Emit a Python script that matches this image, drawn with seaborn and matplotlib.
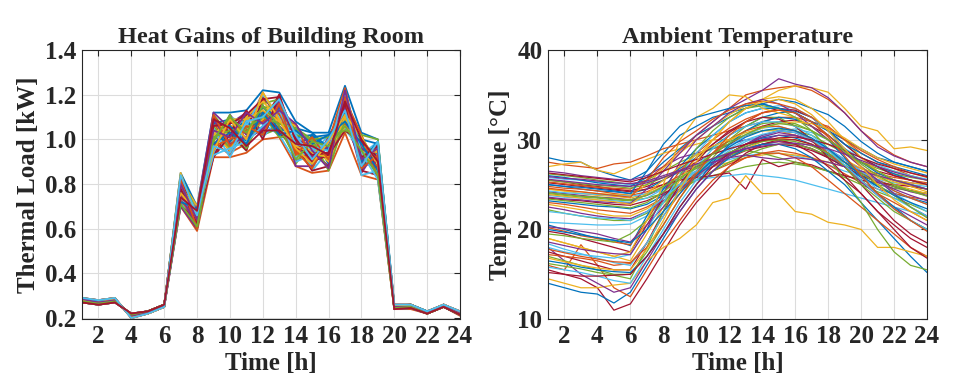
import numpy as np
import pandas as pd
import matplotlib
matplotlib.use("Agg")
import matplotlib.pyplot as plt
import seaborn as sns

hours = list(range(1, 25))
x_ticks = list(range(2, 25, 2))
load_ticks = [0.2, 0.4, 0.6, 0.8, 1.0, 1.2, 1.4]
temp_ticks = [10, 20, 30, 40]

# Thermal load profiles [kW]
load_profiles = [
    [0.29,0.28,0.29,0.20,0.22,0.25,0.85,0.70,1.12,1.12,1.13,1.22,1.21,1.08,1.03,1.03,1.24,1.03,1.00,0.26,0.26,0.23,0.26,0.23],
    [0.27,0.26,0.27,0.22,0.23,0.26,0.70,0.59,0.92,0.92,0.94,1.00,1.01,0.88,0.85,0.86,1.03,0.84,0.82,0.24,0.24,0.22,0.25,0.21],
    [0.28,0.27,0.28,0.21,0.225,0.255,0.78,0.65,1.05,0.98,1.08,1.15,1.10,0.95,0.90,0.98,1.15,0.92,0.88,0.25,0.25,0.225,0.255,0.22],
    [0.285,0.275,0.285,0.205,0.22,0.25,0.82,0.68,0.95,1.10,1.00,1.05,1.18,1.02,0.88,1.00,1.10,0.98,0.85,0.255,0.255,0.225,0.26,0.225],
    [0.275,0.265,0.275,0.215,0.23,0.26,0.74,0.62,1.10,0.95,1.12,1.02,1.05,0.92,0.98,0.90,1.20,0.88,0.95,0.245,0.25,0.22,0.25,0.215],
    [0.29,0.275,0.28,0.21,0.225,0.255,0.80,0.66,0.98,1.05,0.96,1.20,1.08,1.05,0.86,0.95,1.06,1.00,0.90,0.25,0.26,0.23,0.255,0.22],
    [0.27,0.26,0.27,0.22,0.23,0.26,0.72,0.60,1.02,1.08,1.04,1.08,1.20,0.90,0.95,0.88,1.18,0.86,0.98,0.24,0.245,0.22,0.25,0.22],
    [0.28,0.27,0.285,0.205,0.22,0.25,0.84,0.69,0.94,1.00,1.10,1.12,1.02,0.98,1.01,1.02,1.12,0.95,0.84,0.255,0.26,0.225,0.26,0.225],
    [0.285,0.27,0.28,0.21,0.225,0.255,0.76,0.63,1.08,0.94,0.98,1.18,1.12,1.06,0.92,0.92,1.22,0.90,0.92,0.25,0.25,0.225,0.255,0.22],
    [0.275,0.265,0.275,0.215,0.23,0.26,0.81,0.67,1.00,1.06,1.06,1.04,1.15,0.94,0.88,1.01,1.08,1.02,0.86,0.245,0.25,0.22,0.25,0.215],
    [0.29,0.28,0.29,0.20,0.22,0.25,0.73,0.61,0.96,1.11,1.02,1.10,1.04,1.00,0.97,0.87,1.14,0.85,0.96,0.26,0.26,0.23,0.26,0.23],
    [0.27,0.26,0.27,0.22,0.23,0.26,0.79,0.64,1.11,1.02,0.95,1.16,1.18,0.89,1.00,0.96,1.04,0.97,0.83,0.24,0.245,0.22,0.25,0.215],
    [0.28,0.27,0.28,0.21,0.225,0.255,0.83,0.68,1.04,0.97,1.09,1.01,1.09,1.03,0.87,0.99,1.19,0.93,0.99,0.25,0.25,0.225,0.255,0.22],
    [0.285,0.275,0.285,0.205,0.22,0.25,0.71,0.62,0.93,1.04,1.11,1.13,1.03,0.96,0.94,0.94,1.10,0.99,0.87,0.255,0.255,0.225,0.26,0.225],
    [0.275,0.265,0.275,0.215,0.23,0.26,0.77,0.66,1.07,1.09,0.99,1.06,1.19,0.91,1.02,0.89,1.16,0.87,0.94,0.245,0.25,0.22,0.25,0.215],
    [0.29,0.275,0.28,0.21,0.225,0.255,0.75,0.64,0.99,0.93,1.05,1.21,1.07,1.07,0.90,1.00,1.07,0.91,0.91,0.25,0.26,0.23,0.255,0.22],
    [0.27,0.26,0.27,0.22,0.23,0.26,0.82,0.70,1.09,1.01,0.97,1.09,1.13,0.93,0.96,0.93,1.21,0.96,0.85,0.24,0.245,0.22,0.25,0.22],
    [0.28,0.27,0.285,0.205,0.22,0.25,0.70,0.60,0.97,1.07,1.12,1.03,1.06,0.99,0.89,0.97,1.09,0.89,0.97,0.255,0.26,0.225,0.26,0.225],
    [0.285,0.27,0.28,0.21,0.225,0.255,0.84,0.67,1.06,0.96,1.01,1.14,1.16,1.04,0.99,0.91,1.13,1.01,0.89,0.25,0.25,0.225,0.255,0.22],
    [0.275,0.265,0.275,0.215,0.23,0.26,0.78,0.63,0.94,1.10,1.07,1.07,1.02,0.90,0.93,1.02,1.05,0.94,0.93,0.245,0.25,0.22,0.25,0.215],
    [0.29,0.28,0.29,0.20,0.22,0.25,0.74,0.65,1.10,1.03,0.95,1.19,1.11,0.97,0.86,0.88,1.17,0.86,0.84,0.26,0.26,0.23,0.26,0.23],
    [0.27,0.26,0.27,0.22,0.23,0.26,0.80,0.61,1.01,0.99,1.08,1.02,1.14,1.01,1.02,0.95,1.11,1.00,0.98,0.24,0.245,0.22,0.25,0.215],
    [0.28,0.27,0.28,0.21,0.225,0.255,0.72,0.68,0.95,1.08,1.03,1.12,1.05,0.94,0.91,0.99,1.23,0.92,0.88,0.25,0.25,0.225,0.255,0.22],
    [0.285,0.275,0.285,0.205,0.22,0.25,0.85,0.62,1.03,0.95,1.10,1.17,1.09,1.06,0.97,0.90,1.06,0.97,0.94,0.255,0.255,0.225,0.26,0.225],
    [0.275,0.265,0.275,0.215,0.23,0.26,0.76,0.69,1.12,1.05,1.00,1.05,1.17,0.88,0.88,1.01,1.15,0.88,0.90,0.245,0.25,0.22,0.25,0.215],
    [0.29,0.275,0.28,0.21,0.225,0.255,0.81,0.60,0.99,1.11,0.96,1.11,1.01,1.02,1.00,0.86,1.09,0.95,0.96,0.25,0.26,0.23,0.255,0.22],
    [0.27,0.26,0.27,0.22,0.23,0.26,0.71,0.66,1.05,0.92,1.06,1.20,1.10,0.92,0.95,0.98,1.20,0.84,0.86,0.24,0.245,0.22,0.25,0.22],
    [0.28,0.27,0.285,0.205,0.22,0.25,0.83,0.64,0.92,1.02,1.13,1.00,1.20,0.99,0.90,0.93,1.04,0.99,0.92,0.255,0.26,0.225,0.26,0.225],
    [0.285,0.27,0.28,0.21,0.225,0.255,0.77,0.67,1.08,1.06,0.98,1.15,1.04,1.05,1.03,0.96,1.12,0.90,0.99,0.25,0.25,0.225,0.255,0.22],
    [0.275,0.265,0.275,0.215,0.23,0.26,0.73,0.63,0.97,1.00,1.04,1.08,1.12,0.95,0.87,1.00,1.18,1.02,0.83,0.245,0.25,0.22,0.25,0.215],
    [0.29,0.28,0.29,0.20,0.22,0.25,0.79,0.68,1.02,1.09,1.09,1.13,1.08,0.97,0.94,0.92,1.10,0.93,0.95,0.26,0.26,0.23,0.26,0.23],
    [0.27,0.26,0.27,0.22,0.23,0.26,0.75,0.61,1.09,0.98,1.01,1.04,1.15,1.01,0.92,0.97,1.14,0.96,0.91,0.24,0.245,0.22,0.25,0.215],
    [0.28,0.27,0.28,0.21,0.225,0.255,0.80,0.65,1.01,1.04,1.05,1.10,1.07,1.05,1.00,1.01,1.04,1.02,1.00,0.25,0.25,0.225,0.255,0.22],
    [0.285,0.275,0.285,0.205,0.22,0.25,0.74,0.66,0.93,0.96,0.99,1.06,1.13,0.98,0.96,0.95,1.21,0.94,0.82,0.255,0.255,0.225,0.26,0.225],
    [0.275,0.265,0.275,0.215,0.23,0.26,0.78,0.62,1.06,1.07,1.11,1.18,1.19,1.00,0.93,0.94,1.16,0.92,0.97,0.245,0.25,0.22,0.25,0.215],
    [0.29,0.275,0.28,0.21,0.225,0.255,0.72,0.69,0.98,1.03,0.98,1.12,1.02,1.04,0.98,1.02,1.08,0.98,0.86,0.25,0.26,0.23,0.255,0.22],
    [0.27,0.26,0.27,0.22,0.23,0.26,0.82,0.60,1.11,0.97,1.06,1.02,1.16,0.93,1.01,0.91,1.19,0.87,0.93,0.24,0.245,0.22,0.25,0.22],
    [0.28,0.27,0.285,0.205,0.22,0.25,0.76,0.67,0.95,1.09,1.00,1.21,1.09,0.96,0.89,0.99,1.11,1.01,0.89,0.255,0.26,0.225,0.26,0.225],
    [0.285,0.27,0.28,0.21,0.225,0.255,0.80,0.64,1.04,1.01,1.12,1.07,1.13,1.07,0.95,0.87,1.22,0.91,0.96,0.25,0.25,0.225,0.255,0.22],
    [0.275,0.265,0.275,0.215,0.23,0.26,0.71,0.61,1.00,1.10,1.03,1.15,1.06,0.91,0.99,0.97,1.06,0.95,0.84,0.245,0.25,0.22,0.25,0.215],
    [0.29,0.28,0.29,0.20,0.22,0.25,0.84,0.66,0.97,0.94,1.08,1.10,1.18,1.02,0.91,1.00,1.13,0.88,0.99,0.26,0.26,0.23,0.26,0.23],
    [0.27,0.26,0.27,0.22,0.23,0.26,0.74,0.68,1.09,1.05,0.97,1.04,1.04,0.98,0.97,0.93,1.17,1.00,0.90,0.24,0.245,0.22,0.25,0.215],
]

# Ambient temperature profiles [degC]
temp_profiles = [
    [28.0,27.6,27.5,26.6,26.0,25.5,26.5,28.5,30.5,31.5,32.5,33.0,33.5,34.0,33.5,33.0,32.0,31.0,30.0,29.0,28.0,27.5,27.0,26.5],
    [27.5,27.2,27.0,26.8,27.3,27.5,28.2,29.0,29.5,30.0,30.5,31.0,31.5,32.0,32.5,32.5,32.0,31.5,30.0,28.5,27.5,26.8,26.0,25.5],
    [27.0,27.3,27.5,26.6,26.2,27.0,27.8,28.5,29.0,29.5,30.0,30.0,30.5,31.0,31.0,30.5,30.0,29.5,28.5,27.5,27.0,26.5,26.0,25.5],
    [26.5,26.3,26.0,25.8,25.6,25.5,26.0,27.0,28.0,28.5,29.0,29.5,30.0,30.2,30.0,29.5,29.0,28.0,27.0,26.5,26.0,25.5,25.2,25.0],
    [26.2,26.0,25.8,25.5,25.3,25.0,25.5,26.5,27.5,28.3,29.0,29.8,30.5,31.0,31.2,31.0,30.5,29.5,28.5,27.5,26.8,26.2,25.8,25.5],
    [25.8,25.6,25.5,25.3,25.2,25.0,25.3,25.8,26.3,26.8,27.2,27.8,28.2,28.5,28.5,28.2,27.8,27.2,26.5,26.0,25.6,25.2,25.0,24.8],
    [25.5,25.3,25.0,24.8,24.5,24.3,24.8,25.5,26.5,27.5,28.5,29.5,30.5,31.5,32.0,32.2,31.5,30.5,29.0,27.5,26.5,26.0,25.5,25.0],
    [25.0,24.8,24.5,24.3,24.2,24.0,24.5,25.5,26.8,28.0,29.2,30.5,31.5,32.5,33.0,33.2,32.5,31.0,29.5,28.0,27.0,26.2,25.5,25.0],
    [24.8,24.6,24.5,24.3,24.0,23.8,24.2,25.0,26.0,27.0,27.8,28.5,29.0,29.5,29.8,29.5,29.0,28.2,27.5,26.8,26.2,25.8,25.5,25.2],
    [24.5,24.3,24.0,23.8,23.7,23.5,24.0,24.8,25.5,26.3,27.0,27.5,28.0,28.3,28.5,28.3,28.0,27.5,27.0,26.5,26.0,25.5,25.2,25.0],
    [24.2,24.0,23.8,23.6,23.5,23.3,23.8,24.6,25.5,26.5,27.5,28.3,29.0,29.5,29.8,29.6,29.0,28.0,27.0,26.0,25.3,24.8,24.3,24.0],
    [24.0,23.8,23.6,23.5,23.3,23.2,23.5,24.0,24.8,25.5,26.0,26.5,27.0,27.3,27.5,27.3,27.0,26.5,26.0,25.5,25.0,24.6,24.3,24.0],
    [23.8,23.6,23.5,23.3,23.2,23.0,23.5,24.5,25.5,26.5,27.5,28.5,29.5,30.3,31.0,31.2,30.8,30.0,29.0,28.0,27.2,26.5,26.0,25.6],
    [23.5,23.3,23.2,23.0,22.8,22.7,23.2,24.0,25.0,26.0,27.0,28.0,28.8,29.2,29.5,29.3,28.8,28.0,27.0,26.0,25.3,24.8,24.3,24.0],
    [23.2,23.0,22.8,22.6,22.5,22.3,22.8,23.8,25.0,26.2,27.5,28.5,29.5,30.2,30.5,30.2,29.5,28.3,27.0,25.8,24.8,24.0,23.5,23.0],
    [23.0,22.8,22.5,22.2,22.0,21.8,22.5,23.5,24.5,25.5,26.5,27.3,28.0,28.5,28.8,28.5,28.0,27.2,26.2,25.2,24.5,24.0,23.6,23.3],
    [22.8,22.5,22.2,21.8,21.5,21.5,22.3,23.5,24.8,26.0,27.0,28.0,29.0,29.8,30.2,30.0,29.5,28.8,27.8,26.8,26.0,25.3,24.8,24.5],
    [22.5,22.2,21.8,21.5,21.3,21.2,22.0,23.2,24.5,25.8,27.0,28.2,29.2,30.0,30.5,30.5,30.0,29.0,27.8,26.5,25.5,24.8,24.2,23.8],
    [22.2,21.8,21.5,21.2,21.0,21.0,21.8,23.0,24.3,25.5,26.5,27.5,28.3,29.0,29.5,29.5,29.0,28.2,27.2,26.2,25.4,24.8,24.3,24.0],
    [20.8,20.7,20.6,20.5,20.5,20.6,21.5,23.0,24.5,26.0,27.5,28.8,29.8,30.5,31.0,30.8,30.0,29.0,27.8,26.5,25.3,24.3,23.5,22.8],
    [25.2,25.0,24.8,24.6,24.4,24.2,24.5,25.0,25.5,25.8,26.0,26.3,24.5,27.8,27.0,27.5,27.2,26.5,26.0,25.5,25.2,25.0,24.8,24.5],
    [26.0,25.8,25.5,25.2,25.0,24.8,25.8,27.5,29.0,30.5,31.5,32.5,33.5,34.0,34.5,34.2,33.5,32.8,31.5,29.8,28.5,27.5,27.0,26.5],
    [25.3,25.1,24.9,24.7,24.6,24.5,25.5,27.0,28.8,30.5,32.0,33.5,35.0,35.5,35.8,36.0,35.5,34.5,33.0,31.0,29.5,28.3,27.5,27.0],
    [24.5,24.3,24.2,24.0,23.9,23.8,25.0,26.8,28.5,30.0,31.5,32.8,33.8,34.5,35.5,36.0,35.8,35.3,33.5,31.5,31.0,29.0,29.2,28.8],
    [23.6,23.4,23.3,23.1,23.0,22.9,24.5,26.5,28.5,30.5,32.0,33.5,34.5,35.5,36.8,36.2,35.8,34.7,33.0,31.0,29.2,28.2,27.5,27.0],
    [25.5,25.3,25.1,24.9,24.8,24.6,25.0,25.8,26.5,27.2,27.8,28.3,28.8,28.5,28.0,27.5,27.0,26.5,25.8,25.0,24.2,23.5,22.8,22.0],
    [24.3,24.1,24.0,23.9,23.8,23.7,24.0,24.5,25.0,25.5,25.8,26.0,26.2,26.0,25.8,25.5,25.0,24.5,24.0,23.5,23.0,22.5,22.0,21.5],
    [15.5,15.0,14.5,13.5,11.0,11.7,14.5,17.5,20.5,23.0,25.0,27.0,28.5,29.5,30.0,30.0,29.5,28.5,27.0,25.0,23.0,21.0,19.5,18.5],
    [14.0,13.5,13.0,12.8,11.8,13.0,16.0,19.0,22.0,24.5,26.5,28.0,29.0,29.5,29.5,29.0,28.0,26.5,25.0,23.0,21.0,19.0,17.0,15.2],
    [16.0,15.5,18.3,16.0,13.5,12.5,15.5,18.5,21.0,23.5,25.5,27.0,28.0,28.5,28.5,28.0,27.0,25.5,24.0,22.5,21.0,19.5,18.0,17.0],
    [14.5,14.0,13.5,13.5,13.8,14.0,16.5,18.0,19.0,20.5,23.0,23.5,26.0,24.0,24.0,22.0,21.7,20.8,20.5,20.0,18.0,18.0,17.5,17.0],
    [18.0,16.5,15.0,14.0,13.0,13.5,16.5,19.5,22.0,24.5,26.5,28.3,29.5,30.5,31.0,30.8,30.0,28.5,27.0,25.3,23.8,22.5,21.5,20.5],
    [17.0,16.5,16.0,15.5,15.0,15.0,17.5,20.5,23.5,26.0,28.0,30.0,31.5,32.5,32.5,31.5,30.0,28.0,25.5,23.0,20.0,17.5,16.0,15.5],
    [15.8,15.5,15.2,14.8,14.3,14.0,17.0,20.0,23.0,25.5,27.5,29.3,30.5,31.3,31.5,31.0,30.0,28.5,27.0,25.5,24.0,22.5,21.0,20.0],
    [19.8,19.5,19.0,18.5,18.0,17.5,20.5,23.5,26.0,28.0,29.5,30.8,32.0,33.0,33.5,33.3,32.5,31.0,29.5,28.0,27.0,26.0,25.5,25.0],
    [20.5,20.0,19.5,19.0,18.8,18.2,21.5,24.5,27.0,29.0,30.5,32.0,33.0,33.5,33.5,33.0,32.0,30.5,29.0,27.5,26.3,25.5,25.0,24.5],
    [20.2,19.8,19.3,19.0,18.6,18.3,21.0,24.0,26.5,28.5,30.0,31.3,32.3,33.0,33.3,33.0,32.0,30.5,28.8,27.0,25.5,24.3,23.5,22.8],
    [19.0,18.5,18.0,17.5,17.0,16.5,19.5,22.5,25.5,28.0,30.0,32.0,33.5,34.5,34.8,34.5,33.5,32.0,30.0,28.0,26.5,25.5,24.8,24.2],
    [20.3,20.1,19.8,19.5,19.0,18.6,20.5,22.5,24.5,26.0,27.3,28.5,29.5,30.3,30.8,30.5,29.8,28.8,27.5,26.3,25.3,24.5,23.8,23.2],
    [19.5,19.3,19.0,18.8,18.6,19.5,21.0,23.0,25.0,27.0,28.5,30.0,31.0,31.8,32.0,31.8,31.0,30.0,28.8,27.5,26.5,25.5,25.0,24.5],
    [18.0,17.5,17.2,17.0,16.8,17.2,20.0,23.0,26.0,28.5,30.5,32.0,33.0,33.5,33.8,33.5,32.5,31.0,29.0,27.0,25.5,24.0,23.0,22.0],
    [17.5,17.0,16.5,16.0,15.5,15.5,18.5,22.0,25.0,27.5,29.5,31.0,32.0,32.5,32.3,31.5,30.0,28.0,26.0,24.0,22.0,20.5,19.0,18.0],
    [16.5,16.2,15.8,15.5,15.3,15.2,17.0,19.5,22.5,25.0,27.5,29.5,31.0,32.0,32.5,32.3,31.5,30.0,28.0,26.0,24.0,22.5,21.0,20.0],
    [17.2,17.0,16.8,16.5,16.0,16.2,18.5,21.5,24.0,26.5,28.5,30.0,31.0,31.5,31.5,31.0,30.0,28.5,27.0,25.5,24.0,23.0,22.0,21.0],
    [19.0,18.5,18.0,17.5,17.0,17.5,21.0,25.0,30.0,32.5,33.5,35.0,34.8,33.5,33.0,32.5,31.5,30.0,28.5,27.0,25.8,25.0,24.5,24.0],
    [18.6,18.2,17.8,17.5,17.3,17.2,20.0,24.0,27.5,30.0,31.5,33.0,34.0,34.5,34.0,33.0,31.5,30.0,28.5,27.0,25.5,24.0,22.5,21.5],
    [16.2,15.9,15.6,15.2,14.9,14.5,18.0,22.0,26.0,29.0,31.0,32.5,33.5,33.8,33.5,32.5,31.0,29.0,27.0,25.0,23.5,22.0,21.0,20.0],
    [18.4,17.8,17.3,16.8,16.3,16.0,18.5,21.5,24.5,27.0,29.0,30.5,31.5,32.0,32.0,31.5,30.5,29.0,27.5,26.0,24.5,23.5,22.5,21.5],
    [15.2,15.0,14.8,14.8,14.9,15.0,17.0,19.5,22.5,25.0,27.0,28.5,29.5,30.0,30.0,29.5,28.5,27.0,25.5,24.0,22.0,20.0,18.0,16.8],
    [25.0,24.8,24.7,24.5,24.3,24.0,26.5,29.5,31.5,32.5,33.0,33.5,33.8,34.0,33.5,33.0,32.0,31.0,29.5,28.5,27.5,27.0,26.5,26.0],
    [24.6,24.4,24.2,24.0,23.8,23.6,25.5,28.0,29.8,31.0,32.3,33.3,34.0,34.3,34.0,33.5,32.5,31.3,30.0,28.8,27.8,27.0,26.3,25.8],
    [23.9,23.7,23.5,23.3,23.1,22.8,24.0,25.5,27.0,28.3,29.3,30.0,30.8,31.3,31.8,32.0,31.8,31.2,30.2,29.0,28.0,27.3,26.8,26.3],
    [25.6,25.4,25.2,25.0,24.9,24.8,25.2,25.8,26.5,27.0,27.5,28.0,28.3,28.0,27.8,28.0,27.8,27.5,27.0,26.5,26.0,25.5,25.0,24.5],
    [24.1,23.9,23.7,23.6,23.4,23.3,23.8,24.8,25.8,26.8,27.8,28.6,29.3,29.8,30.0,29.8,29.3,28.5,27.5,26.3,25.0,23.8,22.5,21.3],
    [22.0,21.8,21.5,21.3,21.2,21.0,22.0,23.5,25.0,26.5,27.8,29.0,30.0,30.6,31.0,30.8,30.0,28.8,27.2,25.5,23.8,22.3,21.0,20.0],
    [26.3,26.1,25.9,25.7,25.5,25.3,25.8,26.5,27.2,27.8,28.4,29.0,29.5,29.9,30.2,30.3,30.0,29.5,28.8,28.0,27.3,26.8,26.3,25.9],
    [20.0,19.7,19.4,19.1,18.8,18.5,20.0,22.0,24.0,26.0,27.8,29.2,30.3,31.0,31.3,31.0,30.2,29.0,27.5,26.0,24.8,23.8,23.0,22.3],
    [17.8,17.4,17.0,16.7,16.4,16.3,18.0,20.5,23.5,26.2,28.5,30.5,32.0,33.0,33.3,33.0,32.0,30.3,28.2,26.0,24.0,22.3,21.0,19.8],
    [16.8,16.4,16.0,15.7,15.5,15.5,17.8,21.0,24.5,27.5,30.0,32.0,33.5,34.2,34.5,34.0,32.8,31.0,29.0,27.0,25.0,23.3,22.0,21.0],
    [25.9,25.7,25.6,25.4,25.2,25.1,25.4,26.0,26.6,27.3,27.9,28.5,29.0,29.3,29.5,29.6,29.4,29.0,28.4,27.7,27.0,26.4,25.9,25.5],
    [23.4,23.2,23.0,22.8,22.6,22.4,23.0,24.2,25.6,27.0,28.4,29.6,30.6,31.4,31.8,31.6,31.0,30.0,28.7,27.3,26.0,25.0,24.3,23.7],
]

matlab_colors = ["#0072BD", "#D95319", "#EDB120", "#7E2F8E",
                 "#77AC30", "#4DBEEE", "#A2142F"]


def to_long(profiles, name):
    rows = []
    for i, prof in enumerate(profiles):
        for h, v in zip(hours, prof):
            rows.append({"hour": h, name: v, "run": i})
    return pd.DataFrame(rows)


df_load = to_long(load_profiles, "load")
df_temp = to_long(temp_profiles, "temp")

sns.set_theme(style="white")
plt.rcParams["font.family"] = ["Liberation Serif", "DejaVu Serif"]
plt.rcParams["font.weight"] = "bold"

fig = plt.figure(figsize=(9.56, 3.85), dpi=100)
ax1 = fig.add_axes([0.0858, 0.171, 0.3954, 0.699])
ax2 = fig.add_axes([0.5732, 0.171, 0.3965, 0.699])

pal1 = [matlab_colors[i % 7] for i in range(len(load_profiles))]
pal2 = [matlab_colors[i % 7] for i in range(len(temp_profiles))]

sns.lineplot(data=df_load, x="hour", y="load", hue="run", palette=pal1,
             estimator=None, legend=False, linewidth=1.3, ax=ax1)
sns.lineplot(data=df_temp, x="hour", y="temp", hue="run", palette=pal2,
             estimator=None, legend=False, linewidth=0.9, ax=ax2)

for ax, ticks, ylim, title, ylabel in [
    (ax1, load_ticks, (0.195, 1.4), "Heat Gains of Building Room", "Thermal Load [kW]"),
    (ax2, temp_ticks, (10, 40), "Ambient Temperature", "Temperatrue [°C]"),
]:
    ax.set_xlim(1, 24)
    ax.set_ylim(*ylim)
    ax.set_xticks(x_ticks)
    ax.set_yticks(ticks)
    if ax is ax1:
        ax.set_yticklabels([f"{t:.1f}" for t in ticks])
    ax.grid(True, color="#dcdcdc", linewidth=0.8)
    ax.set_axisbelow(True)
    ax.tick_params(direction="in", top=True, right=True, length=4,
                   width=0.8, color="#262626", labelsize=18, pad=4)
    for lab in ax.get_xticklabels() + ax.get_yticklabels():
        lab.set_fontweight("bold")
    for s in ax.spines.values():
        s.set_color("#262626")
        s.set_linewidth(0.8)
    ax.set_title(title, fontsize=17.5, fontweight="bold", pad=5)
    ax.set_xlabel("Time [h]", fontsize=18, fontweight="bold", labelpad=3)
    ax.set_ylabel(ylabel, fontsize=18, fontweight="bold", labelpad=4)

fig.savefig("out.png", dpi=100)
